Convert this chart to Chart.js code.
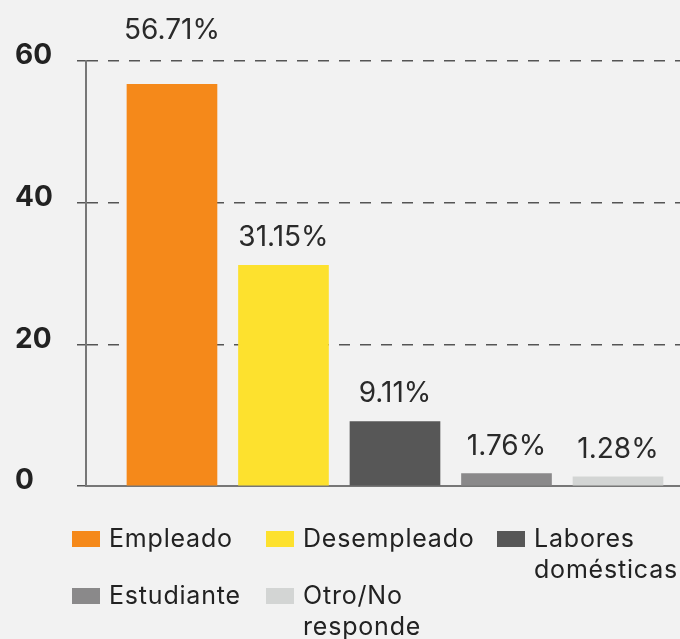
<!DOCTYPE html>
<html>
<head>
<meta charset="utf-8">
<script src="https://cdn.jsdelivr.net/npm/chart.js@4.4.1/dist/chart.umd.min.js"></script>
<style>
    body { margin: 0; background: #f2f2f2; font-family: Inter, sans-serif; }
    #wrap { position: relative; width: 680px; height: 639px; }
    #legend .item { position: absolute; display: flex; align-items: flex-start; font-size: 25px; letter-spacing: 0.8px; line-height: 31px; color: #222; }
    #legend .box { width: 28px; height: 16px; margin-top: 8px; margin-right: 9px; flex: none; }
    #legend .txt { max-width: 150px; }
</style>
</head>
<body>
<div id="wrap">
    <canvas id="chart"></canvas>
    <div id="legend"></div>
</div>
<script>
// Data
const categories = ['Empleado', 'Desempleado', 'Labores domésticas', 'Estudiante', 'Otro/No responde'];
const values = [56.71, 31.15, 9.11, 1.76, 1.28];
const colors = ['#f5891a', '#fde12e', '#575757', '#8a898a', '#d3d5d4'];
const yTicks = [0, 20, 40, 60];

Chart.defaults.font.family = 'Inter, sans-serif';

// Percent labels above the bars
const barLabels = {
    id: 'barLabels',
    afterDatasetsDraw(chart) {
        const ctx = chart.ctx;
        const area = chart.chartArea;
        const meta = chart.getDatasetMeta(0);
        ctx.save();
        ctx.font = '28px Inter, sans-serif';
        ctx.fillStyle = '#2a2a2a';
        ctx.textAlign = 'center';
        ctx.textBaseline = 'alphabetic';
        meta.data.forEach((bar, i) => {
            let y = bar.y - 19;
            if (y < area.top + 25) y = area.top - 22;
            ctx.fillText(values[i].toFixed(2) + '%', bar.x, y);
        });
        ctx.restore();
    }
};

const ctx = document.getElementById('chart').getContext('2d');
const chart = new Chart(ctx, {
    type: 'bar',
    data: {
        datasets: [{
            data: values.map((v, i) => ({ x: i + 1, y: v })),
            backgroundColor: colors,
            barThickness: 90,
            borderWidth: 0
        }]
    },
    options: {
        responsive: true,
        maintainAspectRatio: false,
        animation: false,
        layout: { padding: { top: 61, left: 15, right: 0, bottom: 0 } },
        plugins: {
            legend: { display: false },
            tooltip: { enabled: false }
        },
        scales: {
            x: {
                type: 'linear',
                offset: false,
                min: 0.229,
                max: 5.556,
                ticks: { display: false },
                grid: { display: false },
                border: { display: true, color: '#777', width: 2 },
                afterFit: s => { s.height = 153; }
            },
            y: {
                min: 0,
                max: 60,
                afterBuildTicks: s => { s.ticks = yTicks.map(v => ({ value: v })); },
                afterFit: s => { s.width = 71; },
                ticks: {
                    crossAlign: 'far',
                    labelOffset: -5,
                    color: '#222',
                    font: { size: 28, weight: 'bold' }
                },
                grid: {
                    color: '#555',
                    lineWidth: 1.5,
                    tickLength: 9,
                    tickBorderDash: [11, 10]
                },
                border: { display: true, color: '#777', width: 2, dash: [11, 10] }
            }
        }
    },
    plugins: [barLabels]
});

// Legend
const cols = [72, 266, 497];
const legend = document.getElementById('legend');
categories.forEach((name, i) => {
    const item = document.createElement('div');
    item.className = 'item';
    item.style.left = cols[i % 3] + 'px';
    item.style.top = (523 + Math.floor(i / 3) * 57) + 'px';
    item.innerHTML = `<span class="box" style="background:${colors[i]}"></span><span class="txt">${name}</span>`;
    legend.appendChild(item);
});
</script>
</body>
</html>
